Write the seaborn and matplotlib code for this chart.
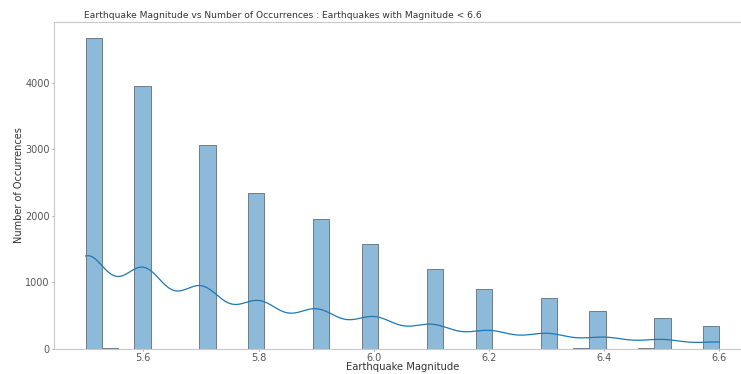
import numpy as np
import pandas as pd
import matplotlib
matplotlib.use("Agg")
import matplotlib.pyplot as plt
import seaborn as sns

# Magnitude readings (rounded to 0.1, plus a few odd values) and how often each occurs
magnitudes = [5.5, 5.55, 5.6, 5.7, 5.8, 5.9, 6.0, 6.1, 6.2, 6.3, 6.35, 6.4, 6.47, 6.5, 6.6]
occurrences = [4680, 14, 3960, 3060, 2340, 1950, 1575, 1200, 900, 760, 10, 570, 10, 460, 345]

title = "Earthquake Magnitude vs Number of Occurrences : Earthquakes with Magnitude < 6.6"
x_label = "Earthquake Magnitude"
y_label = "Number of Occurrences"

# one row per recorded earthquake
quakes = pd.DataFrame({"mag": np.repeat(magnitudes, occurrences)})

plt.rcParams["font.family"] = ["DejaVu Sans"]
fig = plt.figure(figsize=(7.41, 3.74), dpi=100)
ax = fig.add_axes([0.0729, 0.0668, 0.9406, 0.8743])

sns.histplot(data=quakes, x="mag", bins=39, binrange=(5.5, 6.6), kde=True,
             alpha=0.5, edgecolor="#6d7d8c", linewidth=0.7,
             line_kws={"linewidth": 0.9}, ax=ax)

ax.set_xlabel(x_label, fontsize=7.2, color="#333333", labelpad=-1)
ax.set_ylabel(y_label, fontsize=7.0, color="#333333", labelpad=1)
ax.set_title(title, fontsize=6.6, color="#333333", x=0.3285, pad=3)
ax.set_xticks([5.6, 5.8, 6.0, 6.2, 6.4, 6.6])
ax.set_xticklabels(["5.6", "5.8", "6.0", "6.2", "6.4", "6.6"])
ax.tick_params(labelsize=7.0, labelcolor="#555555", length=1.5, width=0.6,
               color="#999999", pad=1.5)
for s in ax.spines.values():
    s.set_color("#c8c8c8")
    s.set_linewidth(0.8)
ax.spines["right"].set_visible(False)

fig.savefig("out.png", dpi=100)
